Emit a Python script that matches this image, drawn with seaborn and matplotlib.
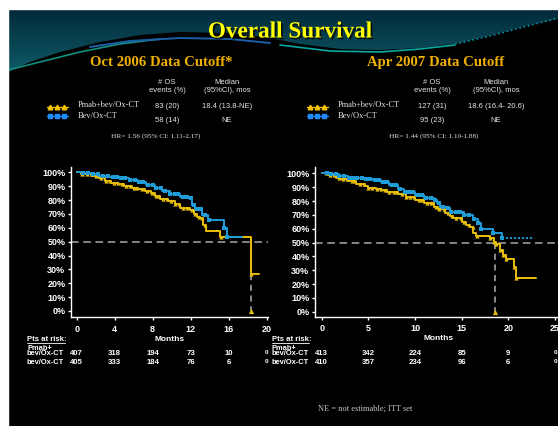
import numpy as np
import pandas as pd
import matplotlib
matplotlib.use("Agg")
import matplotlib.pyplot as plt
import matplotlib.transforms as mtransforms
import matplotlib.patheffects as pe
from matplotlib.patches import Polygon, Rectangle
import seaborn as sns

# ---------------- data ----------------
# Oct 2006 cutoff, Kaplan-Meier steps (months, % alive)
oct_pmab_t = [0, 0.5, 1.0, 1.6, 2.3, 3.0, 3.6, 4.4, 5.0, 5.8, 6.5, 7.2, 7.8, 8.2, 8.8,
              9.6, 10.3, 10.9, 11.9, 12.3, 12.7, 13.0, 13.3, 13.65, 15.1, 18.4, 19.2]
oct_pmab_s = [100, 99, 98.5, 97, 95.7, 94, 92.5, 91.3, 90, 88.9, 88, 86.5, 85, 83.1, 80.5,
              79.3, 77, 74.5, 72.8, 69.7, 68, 66.8, 62, 57.9, 53.6, 26.4, 26.4]
oct_bev_t = [0, 0.6, 1.4, 2.3, 3.4, 4.4, 5.5, 6.5, 7.3, 8.2, 9.0, 9.8, 10.9, 11.75,
             12.1, 12.45, 13.15, 13.85, 15.5, 15.8, 17.4]
oct_bev_s = [100, 99.3, 98.5, 97.6, 96.6, 95.7, 94.3, 92.8, 91, 88.5, 86.5, 84, 82.4, 81.2,
             76.4, 73.5, 69.2, 65.6, 59.6, 53, 53]
oct_pmab_cens = [0.6, 1.1, 1.5, 2.0, 2.6, 3.1, 3.5, 3.9, 4.3, 4.8, 5.2, 5.6, 6.0, 6.4, 6.9,
                 7.4, 7.9, 8.3, 8.7, 9.1, 9.5, 9.9, 10.4, 10.8, 11.2, 11.6, 12.1, 12.5,
                 12.9, 13.2, 13.5, 15.15, 18.4]
oct_bev_cens = [0.7, 1.2, 1.7, 2.2, 2.8, 3.3, 3.8, 4.2, 4.7, 5.1, 5.6, 6.1, 6.6, 7.0, 7.5,
                8.0, 8.4, 8.9, 9.3, 9.8, 10.3, 10.7, 11.2, 11.6, 12.0, 12.3, 12.7, 13.1,
                13.5, 13.9, 15.5, 15.8]

# Apr 2007 cutoff
apr_pmab_t = [0, 0.7, 1.5, 2.0, 2.85, 3.7, 4.6, 5.0, 5.8, 6.4, 7.0, 8.2, 9.0, 10.0, 11.0,
              12.0, 12.5, 13.2, 13.75, 14.1, 15.0, 15.5, 15.9, 16.25, 16.55, 18.0, 18.5,
              18.7, 19.1, 19.4, 19.75, 20.6, 20.85, 23.0]
apr_pmab_s = [100, 98.5, 97, 96, 94.5, 92.5, 91, 89.5, 88.5, 87.8, 86.5, 85, 83, 80.8, 78.5,
              76, 74, 71.5, 69, 67.5, 64.5, 62.5, 61, 56.7, 54.7, 53, 50.2,
              48.7, 44.6, 41, 37.9, 32.5, 24.1, 24.1]
apr_bev_t = [0, 0.8, 1.8, 2.85, 4.6, 5.5, 6.4, 7.2, 8.2, 8.8, 10.0, 11.0, 12.0, 12.4, 12.7,
             13.4, 13.75, 15.2, 16.25, 16.8, 17.1, 18.4, 19.3]
apr_bev_s = [100, 99.2, 98, 96.9, 96, 95, 94, 91.5, 88.7, 86.8, 84.5, 82.5, 80.6, 78.4, 76,
             74.8, 72, 70, 67, 63.9, 59.8, 56.7, 53]
apr_bev_tail_t = [19.3, 22.7]
apr_bev_tail_s = [53, 53]
apr_pmab_cens = [0.5, 0.9, 1.3, 1.8, 2.3, 2.7, 3.2, 3.6, 4.1, 4.5, 5.0, 5.4, 5.9, 6.3, 6.8,
                 7.2, 7.7, 8.1, 8.6, 9.0, 9.5, 9.9, 10.4, 10.8, 11.3, 11.7, 12.2, 12.6,
                 13.1, 13.5, 14.0, 14.4, 14.9, 15.3, 15.8, 16.2, 16.6, 18.0, 18.5, 18.7,
                 19.1, 19.4, 19.75, 20.6, 20.85]
apr_bev_cens = [0.6, 1.0, 1.5, 1.9, 2.4, 2.9, 3.3, 3.8, 4.3, 4.7, 5.2, 5.7, 6.1, 6.6, 7.0,
                7.5, 8.0, 8.4, 8.9, 9.4, 9.8, 10.3, 10.8, 11.2, 11.7, 12.1, 12.6, 13.0,
                13.5, 13.9, 14.4, 14.8, 15.3, 15.8, 16.3, 16.8, 17.1, 18.4, 19.3]

median_oct = 18.4
median_apr = 18.6

oct_ticks = [0, 4, 8, 12, 16, 20]
apr_ticks = [0, 5, 10, 15, 20, 25]
oct_risk_pmab = ["407", "318", "194", "73", "10", "0"]
oct_risk_bev = ["405", "333", "184", "76", "6", "0"]
apr_risk_pmab = ["413", "342", "224", "85", "9", "0"]
apr_risk_bev = ["410", "357", "234", "96", "6", "0"]

# ---------------- style ----------------
W, H = 558, 426
YEL = "#E8BE0C"
BLU = "#1E9DD8"
sns.set_theme(style="ticks", rc={
    "figure.facecolor": "black", "axes.facecolor": "none",
    "axes.edgecolor": "white", "xtick.color": "white", "ytick.color": "white",
    "text.color": "white", "axes.labelcolor": "white",
})
plt.rcParams["font.family"] = ["Liberation Sans", "DejaVu Sans"]
SERIF = ["Liberation Serif", "DejaVu Serif"]

fig = plt.figure(figsize=(W / 100, H / 100), dpi=100)
bg = fig.add_axes([0, 0, 1, 1])
bg.set_xlim(0, W)
bg.set_ylim(H, 0)
bg.axis("off")
bg.add_patch(Rectangle((0, 0), W, H, color="black", zorder=0))

# header band with a soft teal gradient
bx = [8, 30, 60, 100, 140, 180, 230, 270, 300, 340, 380, 420, 460, 500, 530, 558]
by = [72, 62, 52, 42, 35, 32, 33, 38, 44, 49, 50, 48, 43, 33, 25, 19]
band = Polygon([(8, 9), (558, 9)] + list(zip(bx[::-1], by[::-1])), closed=True,
               facecolor="none", edgecolor="none")
bg.add_patch(band)
grad = np.linspace(0, 1, 64)[:, None]
c0 = np.array([2, 42, 58]) / 255
c1 = np.array([16, 92, 104]) / 255
img = c0[None, None, :] * (1 - grad[..., None]) + c1[None, None, :] * grad[..., None]
img = np.repeat(img, 2, axis=1)
im = bg.imshow(img, extent=(8, 558, 75, 9), aspect="auto", zorder=1, interpolation="bilinear")
im.set_clip_path(band)
bg.plot([8, 40, 80, 120, 160], [70, 62, 52, 44, 39], color="#139080", lw=1.2, zorder=2)
bg.plot([90, 130, 180, 230, 270], [47, 41, 38, 39, 43], color="#1a60a8", lw=1.4, zorder=2)
bg.plot([280, 330, 380, 420, 455], [45, 51, 52, 49, 45], color="#08a8a2", lw=1.2, zorder=2)
bg.plot([455, 490, 520, 558], [44, 36, 28, 18], color="#0a90a0", lw=1.2, ls=":", zorder=2)

# white margin
bg.add_patch(Rectangle((0, 0), W, 9, color="white", zorder=3))
bg.add_patch(Rectangle((0, 0), 8, H, color="white", zorder=3))

# titles
bg.text(290, 32, "Overall Survival", family=SERIF, weight="bold", fontsize=16.7,
        color="#FFFF00", ha="center", va="center", zorder=4,
        path_effects=[pe.withSimplePatchShadow(offset=(1.2, -1.2), shadow_rgbFace="black", alpha=0.8)])
bg.text(161, 62.5, "Oct 2006 Data Cutoff*", family=SERIF, weight="bold", fontsize=10.6,
        color="#F0B000", ha="center", va="center", zorder=4)
bg.text(436, 62.5, "Apr 2007 Data Cutoff", family=SERIF, weight="bold", fontsize=10.6,
        color="#F0B000", ha="center", va="center", zorder=4)

# summary tables above each panel
def header_block(x_leg, x_lab, x_ev, x_med, x_hr, ev, med, hr):
    gray = "#E6E6E6"
    bg.text(x_ev, 82, "# OS", fontsize=5.5, color=gray, ha="center", va="center")
    bg.text(x_ev, 90.7, "events (%)", fontsize=5.5, color=gray, ha="center", va="center")
    bg.text(x_med, 82, "Median", fontsize=5.5, color=gray, ha="center", va="center")
    bg.text(x_med, 90.7, "(95%CI), mos", fontsize=5.5, color=gray, ha="center", va="center")
    xs = np.linspace(x_leg + 3, x_leg + 17, 3)
    bg.plot([x_leg, x_leg + 20.5], [107.3, 107.3], color="#F5C400", lw=1.0)
    bg.plot(xs, [106.8] * 3, ls="none", marker="^", ms=3.3, color="#F5C400")
    bg.plot([x_leg, x_leg + 20.5], [116, 116], color="#1E8CFF", lw=1.0)
    bg.plot(xs, [116] * 3, ls="none", marker="s", ms=2.8, color="#1E8CFF")
    bg.text(x_lab, 105.3, "Pmab+bev/Ox-CT", family=SERIF, fontsize=6, color=gray, va="center")
    bg.text(x_lab, 116, "Bev/Ox-CT", family=SERIF, fontsize=6, color=gray, va="center")
    bg.text(x_ev, 106.5, ev[0], fontsize=5.5, color=gray, ha="center", va="center")
    bg.text(x_ev, 121, ev[1], fontsize=5.5, color=gray, ha="center", va="center")
    bg.text(x_med, 106.5, med[0], fontsize=5.5, color=gray, ha="center", va="center")
    bg.text(x_med, 121, med[1], fontsize=5.5, color=gray, ha="center", va="center")
    bg.text(x_hr, 136.5, hr, family=SERIF, fontsize=5.2, color=gray, ha="center", va="center")

header_block(47, 77.5, 167, 227, 156, ["83 (20)", "58 (14)"], ["18.4 (13.8-NE)", "NE"],
             "HR= 1.56 (95% CI: 1.11-2.17)")
header_block(307, 337.5, 432, 496, 434, ["127 (31)", "95 (23)"], ["18.6 (16.4- 20.6)", "NE"],
             "HR= 1.44 (95% CI: 1.10-1.88)")


def px_axes(left, right, bottom, top):
    return fig.add_axes([left / W, 1 - bottom / H, (right - left) / W, (bottom - top) / H])


def km_panel(ax, curves, ticks, xlim, ylim, median):
    ax.set_xlim(*xlim)
    ax.set_ylim(*ylim)
    ax.axhline(50, color="#A8A8A8", lw=1.1, dashes=(5, 3), zorder=1)
    ax.plot([median, median], [50, 0], color="#B0B0B0", lw=1.1, dashes=(4, 3), zorder=1)
    for t, s, cens, col, mk in curves:
        df = pd.DataFrame({"Months": t, "OS": s})
        sns.lineplot(data=df, x="Months", y="OS", drawstyle="steps-post", estimator=None,
                     sort=False, color=col, lw=1.4, ax=ax, zorder=3)
        t_arr, s_arr = np.asarray(t), np.asarray(s)
        idx = np.searchsorted(t_arr, cens, side="right") - 1
        sns.scatterplot(x=list(cens), y=list(s_arr[idx]), marker=mk, color=col, s=9,
                        linewidth=0, ax=ax, zorder=4)
    sns.scatterplot(x=[median], y=[0], marker="^", color=YEL, s=14, linewidth=0, ax=ax, zorder=4)
    ax.set_xticks(ticks)
    ax.set_yticks(range(0, 101, 10))
    ax.set_yticklabels([f"{v}%" for v in range(0, 101, 10)])
    for lab in ax.get_xticklabels() + ax.get_yticklabels():
        lab.set_fontweight("bold")
        lab.set_fontsize(6.5)
    ax.tick_params(axis="both", length=2.5, width=1.0, pad=1.5)
    ax.tick_params(axis="x", pad=3)
    for sp in ("top", "right"):
        ax.spines[sp].set_visible(False)
    for sp in ("left", "bottom"):
        ax.spines[sp].set_linewidth(1.0)
    ax.set_xlabel("Months", fontsize=6, fontweight="bold", labelpad=1.5)
    ax.set_ylabel("")


# Oct 2006 panel
ax1 = px_axes(71, 268, 317, 167)
km_panel(ax1,
         [(oct_pmab_t, oct_pmab_s, oct_pmab_cens, YEL, "^"),
          (oct_bev_t, oct_bev_s, oct_bev_cens, BLU, "s")],
         oct_ticks, (-0.6, 20.14), (-4.33, 103.8), median_oct)

# Apr 2007 panel (runs off the right edge)
ax2 = px_axes(315, 562, 316.7, 167)
km_panel(ax2,
         [(apr_pmab_t, apr_pmab_s, apr_pmab_cens, YEL, "^"),
          (apr_bev_t, apr_bev_s, apr_bev_cens, BLU, "s")],
         apr_ticks, (-0.72, 25.75), (-3.6, 104.6), median_apr)
ax2.plot(apr_bev_tail_t, apr_bev_tail_s, color=BLU, lw=1.3, dashes=(1.2, 1.0), zorder=3)

# patients at risk
def risk_table(ax, x0, ticks, row1, row2):
    tr = mtransforms.blended_transform_factory(ax.transData, bg.transData)
    bg.text(x0, 339.5, "Pts at risk:", fontsize=5.6, fontweight="bold", va="center")
    bg.plot([x0, x0 + 37.5], [343.2, 343.2], color="white", lw=0.6)
    bg.text(x0, 348.2, "Pmab+", fontsize=5.4, fontweight="bold", va="center")
    bg.text(x0, 353.8, "bev/Ox-CT", fontsize=5.4, fontweight="bold", va="center")
    bg.text(x0, 363, "bev/Ox-CT", fontsize=5.4, fontweight="bold", va="center")
    for i, (m, a, b) in enumerate(zip(ticks, row1, row2)):
        last = i == len(ticks) - 1
        fs = 4.6 if last else 5.6
        dy = -1.2 if last else 0
        ax.text(m, 353.8 + dy, a, transform=tr, fontsize=fs, fontweight="bold",
                ha="center", va="center", clip_on=False)
        ax.text(m, 363 + dy, b, transform=tr, fontsize=fs, fontweight="bold",
                ha="center", va="center", clip_on=False)

risk_table(ax1, 27, oct_ticks, oct_risk_pmab, oct_risk_bev)
risk_table(ax2, 271.5, apr_ticks, apr_risk_pmab, apr_risk_bev)

bg.text(365, 409, "NE = not estimable; ITT set", family=SERIF, fontsize=6, color="#C8C8C8",
        ha="center", va="center")

fig.savefig("out.png", dpi=100, facecolor="black")
